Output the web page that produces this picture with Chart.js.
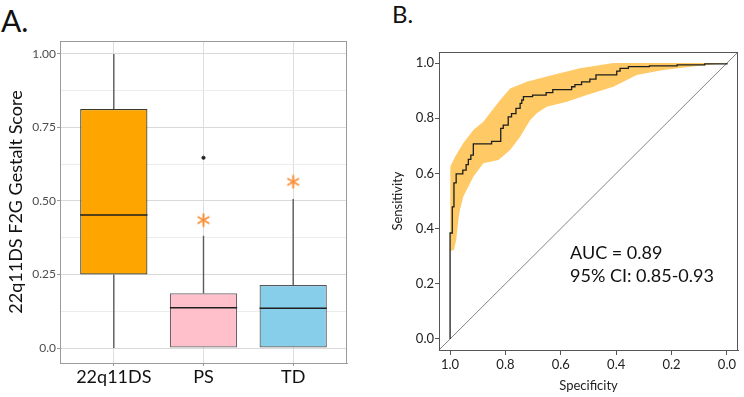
<!DOCTYPE html>
<html>
<head>
<meta charset="utf-8">
<script src="https://cdn.jsdelivr.net/npm/chart.js@4.4.1/dist/chart.umd.min.js"></script>
<style>
  html, body { margin: 0; padding: 0; background: #fff; }
  #wrap { position: relative; width: 744px; height: 397px; overflow: hidden; font-family: Lato, sans-serif; color: #111; }
  canvas { position: absolute; top: 0; }
  #chartA { left: 0; }
  #chartB { left: 372px; }
  .lab { position: absolute; line-height: 1.2; }
  #labA { left: 1px; top: 2px; font-size: 30px; }
  #labB { left: 392px; top: 0px; font-size: 24px; }
  #auc { position: absolute; left: 570px; top: 241px; font-size: 18px; line-height: 23px; }
</style>
</head>
<body>
<div id="wrap">
  <div class="lab" id="labA">A.</div>
  <div class="lab" id="labB">B.</div>
  <canvas id="chartA" width="372" height="397"></canvas>
  <canvas id="chartB" width="372" height="397"></canvas>
  <div id="auc"></div>
</div>
<script>
// ---- panel A: boxplot data ----
var groups = ['22q11DS', 'PS', 'TD'];
var whiskerLow = [0, 0, 0];
var q1 = [0.25, 0, 0];
var medians = [0.452, 0.137, 0.135];
var q3 = [0.813, 0.186, 0.214];
var whiskerHigh = [1.0, 0.382, 0.507];
var outliers = [[], [0.647], []];
var starMarks = [null, 0.435, 0.565];
var yTicksA = [0, 0.25, 0.5, 0.75, 1.0];
var yLabelsA = ['0.0', '0.25', '0.50', '0.75', '1.00'];
var boxColors = ['#FFA500', '#FFC0CB', '#87CEEB'];
var boxBorders = ['#3a3a2a', '#666666', '#555555'];

// ---- panel B: ROC data (specificity, sensitivity) ----
var rocSpec = [1.0, 1.0, 0.992, 0.986, 0.978, 0.954, 0.942, 0.934, 0.925, 0.916, 0.85, 0.817, 0.808, 0.79, 0.778, 0.762, 0.747, 0.741, 0.735, 0.702, 0.653, 0.629, 0.561, 0.549, 0.525, 0.495, 0.473, 0.398, 0.386, 0.356, 0.28, 0.18, 0.08, 0.0];
var rocSens = [0.0, 0.384, 0.479, 0.566, 0.598, 0.612, 0.632, 0.651, 0.666, 0.707, 0.716, 0.763, 0.775, 0.805, 0.817, 0.836, 0.854, 0.866, 0.878, 0.884, 0.893, 0.904, 0.914, 0.922, 0.932, 0.942, 0.957, 0.971, 0.981, 0.987, 0.99, 0.993, 0.997, 1.0];
var ciHiSpec = [0.997, 0.997, 1.0, 1.0, 0.982, 0.952, 0.916, 0.88, 0.838, 0.819, 0.783, 0.723, 0.651, 0.531, 0.41, 0.0];
var ciHiSens = [0.32, 0.50, 0.52, 0.625, 0.66, 0.71, 0.757, 0.787, 0.842, 0.866, 0.908, 0.932, 0.951, 0.981, 1.0, 1.0];
var ciLoSpec = [0.986, 0.978, 0.97, 0.964, 0.952, 0.916, 0.88, 0.825, 0.783, 0.747, 0.711, 0.687, 0.651, 0.578, 0.506, 0.41, 0.326, 0.23, 0.109, 0.0];
var ciLoSens = [0.322, 0.359, 0.431, 0.47, 0.516, 0.588, 0.637, 0.649, 0.685, 0.733, 0.793, 0.818, 0.842, 0.86, 0.884, 0.914, 0.957, 0.975, 0.989, 1.0];
var xTicksB = [1.0, 0.8, 0.6, 0.4, 0.2, 0.0];
var yTicksB = [0.0, 0.2, 0.4, 0.6, 0.8, 1.0];
var aucLines = ['AUC = 0.89', '95% CI: 0.85-0.93'];

document.getElementById('auc').innerHTML = aucLines.join('<br>');

Chart.defaults.font.family = 'Lato, sans-serif';
Chart.defaults.animation = false;

// draws the box around the plot area (top/right edges too)
var frame = {
    id: 'frame',
    afterDatasetsDraw: function(chart, args, opts) {
        var a = chart.chartArea, ctx = chart.ctx;
        ctx.save();
        ctx.strokeStyle = opts.color;
        ctx.lineWidth = 1;
        ctx.strokeRect(Math.round(a.left) + 0.5, Math.round(a.top) + 0.5,
                       Math.round(a.right - a.left) - 1, Math.round(a.bottom - a.top));
        ctx.restore();
    }
};

// asterisk marker
function makeStar(color) {
    var c = document.createElement('canvas');
    c.width = 15; c.height = 15;
    var g = c.getContext('2d');
    g.strokeStyle = color;
    g.lineWidth = 2;
    g.lineCap = 'round';
    for (var k = 0; k < 3; k++) {
        var ang = Math.PI / 2 + k * Math.PI / 3;
        g.beginPath();
        g.moveTo(7.5 - Math.cos(ang) * 6, 7.5 - Math.sin(ang) * 6);
        g.lineTo(7.5 + Math.cos(ang) * 6, 7.5 + Math.sin(ang) * 6);
        g.stroke();
    }
    return c;
}

// ---------- chart A ----------
var boxWidth = 0.75;
var whiskerPts = [], medianPts = [], outlierPts = [], starPts = [];
groups.forEach(function(g, i) {
    whiskerPts.push({x: i, y: whiskerLow[i]}, {x: i, y: q1[i]}, {x: i, y: null});
    whiskerPts.push({x: i, y: q3[i]}, {x: i, y: whiskerHigh[i]}, {x: i, y: null});
    medianPts.push({x: i - boxWidth / 2, y: medians[i]}, {x: i + boxWidth / 2, y: medians[i]}, {x: i, y: null});
    outliers[i].forEach(function(v) { outlierPts.push({x: i, y: v}); });
    if (starMarks[i] !== null) starPts.push({x: i, y: starMarks[i]});
});

var minorA = [];
for (var k = 0; k < yTicksA.length - 1; k++) minorA.push((yTicksA[k] + yTicksA[k + 1]) / 2);
var allTicksA = yTicksA.concat(minorA).sort(function(a, b) { return a - b; });
function isMajorA(v) { return yTicksA.some(function(t) { return Math.abs(t - v) < 1e-9; }); }

new Chart(document.getElementById('chartA').getContext('2d'), {
    type: 'bar',
    data: {
        datasets: [
            { type: 'line', data: medianPts, borderColor: '#1e1e1e', borderWidth: 1.5, pointRadius: 0, spanGaps: false },
            { type: 'scatter', data: starPts, pointStyle: makeStar('#F7923A'), pointRadius: 7 },
            { type: 'scatter', data: outlierPts, backgroundColor: '#222', borderColor: '#222', pointRadius: 1.6 },
            { type: 'line', data: whiskerPts, borderColor: '#5a5a5a', borderWidth: 1.4, pointRadius: 0, spanGaps: false },
            {
                type: 'bar',
                data: groups.map(function(g, i) { return {x: i, y: [q1[i], q3[i]]}; }),
                backgroundColor: boxColors,
                borderColor: boxBorders,
                borderWidth: 1.2,
                borderSkipped: false,
                categoryPercentage: 1,
                barPercentage: boxWidth
            }
        ]
    },
    options: {
        responsive: false,
        layout: { padding: { top: 41, right: 25, left: 0, bottom: 0 } },
        plugins: { legend: { display: false }, tooltip: { enabled: false }, frame: { color: '#9a9a9a' } },
        scales: {
            x: {
                type: 'linear', min: -0.6, max: 2.6, offset: false,
                afterBuildTicks: function(s) { s.ticks = groups.map(function(g, i) { return {value: i}; }); },
                afterFit: function(s) { s.height = 34; },
                ticks: { callback: function(v) { return groups[v]; }, color: '#111', font: { size: 18 }, padding: 0, maxRotation: 0 },
                grid: { offset: false, color: '#dedede', tickColor: '#9a9a9a', tickLength: 3 },
                border: { color: '#9a9a9a' }
            },
            y: {
                min: -0.051, max: 1.044,
                afterBuildTicks: function(s) { s.ticks = allTicksA.map(function(v) { return {value: v}; }); },
                afterFit: function(s) { s.width = 60; },
                ticks: {
                    autoSkip: false, color: '#4d4d4d', font: { size: 12 }, padding: 1,
                    callback: function(v) {
                        for (var j = 0; j < yTicksA.length; j++) if (Math.abs(yTicksA[j] - v) < 1e-9) return yLabelsA[j];
                        return '';
                    }
                },
                grid: {
                    color: function(c) { return c.tick && isMajorA(c.tick.value) ? '#d9d9d9' : '#ececec'; },
                    tickColor: function(c) { return c.tick && isMajorA(c.tick.value) ? '#9a9a9a' : 'rgba(0,0,0,0)'; },
                    tickLength: 3
                },
                border: { color: '#9a9a9a' },
                title: { display: true, text: '22q11DS F2G Gestalt Score', color: '#111', font: { size: 18 }, padding: { top: 5, bottom: 0 } }
            }
        }
    },
    plugins: [frame]
});

// ---------- chart B ----------
var rocPts = rocSpec.map(function(s, i) { return {x: s, y: rocSens[i]}; });
var bandPts = ciHiSpec.map(function(s, i) { return {x: s, y: ciHiSens[i]}; });
for (var j = ciLoSpec.length - 1; j >= 0; j--) bandPts.push({x: ciLoSpec[j], y: ciLoSens[j]});
var xMinB = -0.04, xMaxB = 1.04;
var diagPts = [{x: xMaxB, y: 1 - xMaxB}, {x: xMinB, y: 1 - xMinB}];

new Chart(document.getElementById('chartB').getContext('2d'), {
    type: 'scatter',
    data: {
        datasets: [
            { data: rocPts, showLine: true, stepped: 'before', borderColor: '#1c1f1a', borderWidth: 1.3, pointRadius: 0 },
            { data: diagPts, showLine: true, borderColor: '#666', borderWidth: 0.8, pointRadius: 0 },
            { data: bandPts, showLine: true, fill: 'shape', backgroundColor: '#FFC966', borderColor: 'rgba(0,0,0,0)', borderWidth: 0.5, pointRadius: 0 }
        ]
    },
    options: {
        responsive: false,
        layout: { padding: { top: 52, right: 6, left: 0, bottom: 0 } },
        plugins: { legend: { display: false }, tooltip: { enabled: false }, frame: { color: '#555' } },
        scales: {
            x: {
                type: 'linear', reverse: true, min: xMinB, max: xMaxB,
                afterBuildTicks: function(s) { s.ticks = xTicksB.map(function(v) { return {value: v}; }); },
                afterFit: function(s) { s.height = 47; },
                ticks: { callback: function(v) { return v.toFixed(1); }, color: '#222', font: { size: 13 }, padding: 2, maxRotation: 0 },
                grid: { drawOnChartArea: false, tickColor: '#555', tickLength: 5 },
                border: { color: '#555' },
                title: { display: true, text: 'Specificity', color: '#222', font: { size: 13 }, padding: { top: 0, bottom: 3 } }
            },
            y: {
                min: xMinB, max: xMaxB,
                afterBuildTicks: function(s) { s.ticks = yTicksB.map(function(v) { return {value: v}; }); },
                afterFit: function(s) { s.width = 67; },
                ticks: { callback: function(v) { return v.toFixed(1); }, color: '#222', font: { size: 13 }, padding: 1 },
                grid: { drawOnChartArea: false, tickColor: '#555', tickLength: 4 },
                border: { color: '#555' },
                title: { display: true, text: 'Sensitivity', color: '#222', font: { size: 13 }, padding: { top: 18, bottom: 0 } }
            }
        }
    },
    plugins: [frame]
});
</script>
</body>
</html>
